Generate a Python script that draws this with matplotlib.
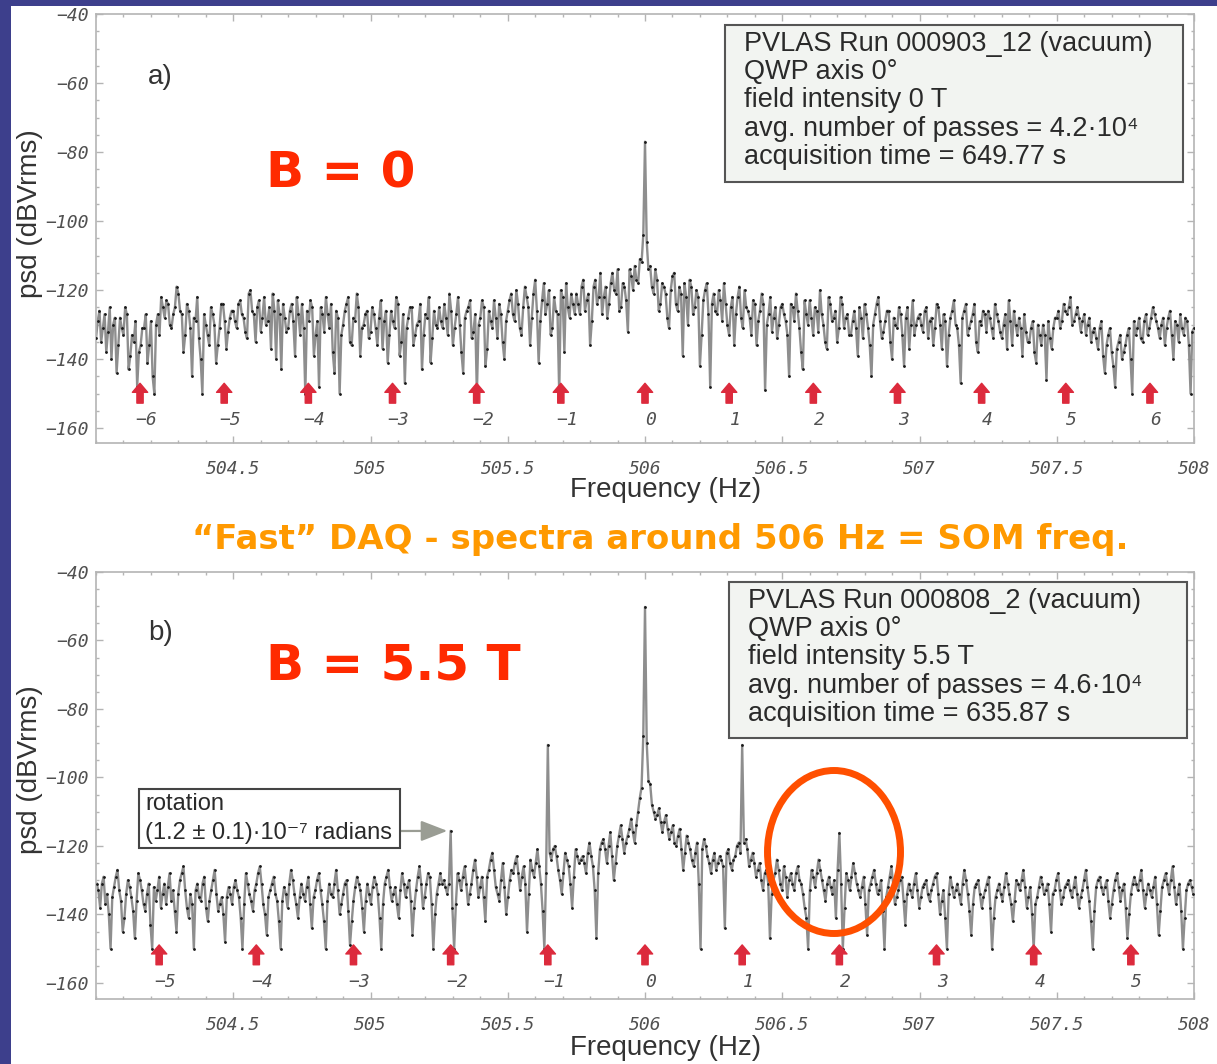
import numpy as np
import matplotlib
matplotlib.use('Agg')
import matplotlib.pyplot as plt
from matplotlib.patches import Rectangle, Ellipse
from matplotlib.ticker import MultipleLocator, FixedLocator, FixedFormatter

plt.rcParams['font.family'] = ['Liberation Sans', 'DejaVu Sans']
plt.rcParams['mathtext.fontset'] = 'custom'
plt.rcParams['mathtext.rm'] = 'Liberation Sans'
plt.rcParams['mathtext.default'] = 'regular'

# ---------------- data ----------------
# panel a: B = 0, bins every 0.0125 Hz from 504.0 to 508.0 Hz
PSD_A = [
    -134, -126, -131, -138, -125, -130, -144, -128, -133, -127, -139, -135, -148, -136, -131, -141, -129, -150, -127, -122,
    -128, -124, -131, -125, -121, -127, -133, -126, -145, -129, -134, -150, -130, -136, -127, -141, -131, -124, -137, -128,
    -126, -131, -123, -128, -134, -120, -127, -125, -132, -122, -129, -137, -126, -123, -143, -128, -131, -124, -139, -127,
    -124, -150, -129, -125, -133, -148, -127, -122, -131, -138, -126, -150, -130, -124, -135, -128, -121, -139, -130, -126,
    -132, -127, -136, -123, -129, -141, -126, -131, -124, -135, -147, -128, -125, -133, -129, -143, -127, -122, -134, -130,
    -125, -131, -128, -121, -136, -127, -130, -144, -126, -123, -132, -150, -128, -125, -137, -129, -123, -134, -127, -140,
    -126, -121, -129, -124, -133, -119, -125, -128, -117, -141, -123, -127, -120, -131, -126, -150, -122, -118, -128, -124,
    -121, -127, -117, -123, -136, -119, -124, -115, -122, -128, -118, -120, -114, -125, -119, -132, -116, -113, -118, -112,
    -77, -114, -119, -114, -126, -118, -121, -131, -116, -124, -119, -139, -122, -117, -127, -120, -142, -123, -118, -148,
    -121, -127, -123, -118, -130, -125, -136, -122, -128, -120, -126, -133, -124, -129, -121, -149, -127, -132, -125, -130,
    -124, -129, -145, -125, -121, -131, -143, -127, -123, -133, -126, -120, -130, -137, -124, -128, -135, -122, -131, -127,
    -133, -126, -139, -128, -124, -131, -145, -127, -122, -134, -129, -126, -140, -130, -125, -133, -128, -137, -123, -130,
    -127, -132, -125, -129, -136, -124, -130, -127, -142, -128, -123, -131, -147, -126, -133, -129, -124, -138, -130, -127,
    -126, -131, -124, -129, -134, -127, -123, -136, -130, -128, -139, -132, -135, -129, -141, -133, -130, -146, -134, -131,
    -128, -131, -124, -127, -122, -129, -125, -132, -127, -130, -135, -131, -137, -129, -144, -133, -138, -148, -135, -140,
    -136, -131, -150, -133, -128, -135, -127, -131, -125, -129, -134, -128, -131, -126, -140, -130, -127, -133, -129, -150,
    -131,
]
# panel a: values read half-way between the bins above
PSD_A_MID = [
    -129, -135, -127, -132, -140, -128, -136, -131, -125, -143, -133, -129, -138, -131, -127, -136, -145, -130, -133, -125,
    -123, -130, -127, -119, -126, -138, -124, -131, -128, -122, -140, -127, -133, -125, -130, -136, -124, -129, -132, -126,
    -129, -124, -127, -132, -121, -126, -135, -123, -128, -130, -125, -121, -140, -127, -124, -132, -126, -129, -122, -133,
    -131, -126, -123, -139, -129, -125, -132, -127, -124, -144, -128, -133, -126, -122, -136, -129, -125, -131, -127, -134,
    -125, -131, -128, -137, -126, -133, -129, -122, -139, -127, -131, -125, -136, -130, -124, -133, -128, -141, -126, -131,
    -129, -124, -133, -126, -131, -122, -138, -128, -125, -134, -127, -130, -123, -142, -126, -131, -128, -124, -135, -129,
    -123, -127, -120, -131, -125, -122, -136, -121, -126, -129, -118, -124, -133, -122, -127, -120, -138, -125, -121, -127,
    -124, -119, -126, -121, -129, -117, -122, -127, -119, -124, -115, -121, -126, -118, -123, -114, -120, -117, -111, -104,
    -106, -113, -121, -117, -124, -119, -128, -120, -115, -126, -121, -118, -130, -119, -125, -122, -133, -120, -127, -124,
    -126, -120, -129, -124, -133, -122, -127, -119, -131, -125, -128, -123, -136, -126, -124, -130, -122, -128, -134, -125,
    -127, -133, -124, -129, -126, -138, -123, -130, -128, -125, -132, -127, -135, -122, -129, -126, -131, -124, -128, -133,
    -129, -131, -125, -134, -127, -136, -130, -124, -129, -132, -126, -135, -128, -131, -127, -142, -125, -130, -133, -128,
    -130, -126, -134, -128, -131, -125, -137, -129, -133, -126, -130, -136, -128, -124, -131, -127, -135, -129, -126, -132,
    -128, -134, -127, -132, -130, -137, -129, -126, -133, -131, -127, -135, -131, -138, -130, -136, -133, -129, -137, -128,
    -126, -129, -126, -125, -130, -127, -128, -129, -133, -128, -132, -134, -131, -139, -136, -131, -142, -137, -133, -138,
    -133, -140, -129, -131, -134, -129, -133, -128, -127, -131, -130, -136, -128, -133, -129, -135, -131, -128, -136, -132,
]

# panel b: B = 5.5 T, bins every 0.354/28 Hz centred on 506 Hz
PSD_B = [
    -131, -138, -129, -134, -150, -132, -127, -136, -141, -130, -135, -147, -128, -133, -139, -131, -150, -136, -129, -134,
    -137, -128, -133, -145, -130, -126, -138, -134, -150, -131, -136, -129, -142, -133, -127, -139, -135, -148, -132, -137,
    -130, -135, -150, -128, -134, -139, -131, -126, -137, -146, -133, -129, -136, -150, -132, -138, -127, -134, -141, -131,
    -136, -129, -144, -133, -128, -137, -150, -131, -135, -127, -140, -134, -130, -149, -136, -129, -133, -145, -131, -137,
    -129, -134, -150, -131, -127, -136, -132, -141, -128, -135, -130, -146, -133, -126, -138, -131, -129, -150, -134, -128,
    -130, -134, -115.6, -150, -128, -133, -126, -137, -131, -124, -135, -129, -142, -127, -122, -132, -136, -125, -140, -130,
    -128, -123, -133, -126, -145, -124, -129, -121, -131, -150, -90.5, -124, -120, -127, -134, -122, -126, -138, -121, -125,
    -123, -128, -119, -126, -147, -121, -118, -125, -116, -130, -120, -114, -122, -117, -112, -119, -110, -103, -50.2, -101,
    -108, -112, -109, -116, -111, -118, -114, -120, -115, -127, -117, -121, -126, -119, -150, -118, -123, -128, -122, -125,
    -124, -144, -121, -127, -123, -119, -90.5, -118, -126, -122, -129, -125, -133, -127, -147, -130, -124, -131, -126, -135,
    -128, -133, -126, -131, -138, -150, -127, -132, -124, -130, -136, -129, -134, -141, -116.2, -150, -128, -133, -125, -131,
    -135, -129, -146, -131, -127, -134, -130, -150, -132, -126, -137, -133, -129, -143, -131, -135, -128, -138, -132, -130,
    -136, -131, -128, -140, -133, -150, -129, -135, -131, -137, -127, -134, -146, -132, -130, -138, -133, -129, -150, -135,
    -131, -136, -128, -134, -142, -130, -133, -127, -138, -132, -150, -135, -129, -134, -131, -145, -133, -128, -137, -132,
    -130, -135, -129, -138, -133, -127, -136, -150, -132, -129, -134, -130, -141, -133, -128, -136, -131, -147, -134, -129,
    -133, -127, -138, -131, -135, -129, -146, -132, -128, -134, -126, -137, -131, -150, -133, -130, -134,
]
# panel b: values read half-way between the bins above
PSD_B_MID = [
    -133, -131, -137, -140, -135, -129, -133, -145, -134, -132, -139, -136, -130, -137, -134, -143, -132, -133, -138, -131,
    -132, -136, -139, -134, -128, -133, -141, -137, -133, -135, -131, -138, -136, -130, -134, -137, -140, -135, -134, -132,
    -133, -141, -137, -131, -136, -133, -128, -131, -140, -135, -131, -134, -142, -136, -134, -131, -130, -137, -135, -134,
    -132, -137, -135, -130, -133, -142, -136, -134, -131, -133, -137, -131, -139, -142, -132, -131, -138, -136, -134, -132,
    -131, -141, -137, -129, -132, -134, -137, -133, -131, -132, -136, -138, -129, -131, -135, -128, -137, -140, -131, -131,
    -132, -131, -138, -137, -130, -129, -131, -134, -127, -129, -132, -135, -129, -124, -127, -134, -130, -132, -135, -127,
    -125, -128, -129, -131, -134, -127, -125, -126, -139, -128, -122, -121, -123, -130, -128, -124, -131, -129, -123, -124,
    -125, -122, -123, -133, -128, -119, -121, -120, -123, -125, -117, -118, -119, -115, -116, -114, -106, -88, -90, -102,
    -110, -111, -113, -113, -115, -116, -119, -117, -121, -122, -119, -124, -122, -131, -121, -120, -125, -124, -127, -123,
    -126, -122, -125, -124, -120, -122, -119, -121, -124, -125, -127, -130, -128, -131, -134, -128, -127, -133, -129, -130,
    -131, -128, -130, -134, -141, -133, -129, -128, -127, -133, -131, -132, -130, -127, -131, -138, -130, -129, -128, -133,
    -132, -137, -133, -129, -131, -133, -139, -135, -129, -131, -135, -130, -136, -134, -133, -131, -133, -135, -131, -134,
    -133, -129, -134, -136, -141, -134, -132, -133, -134, -131, -130, -139, -137, -131, -134, -135, -131, -138, -141, -133,
    -134, -132, -131, -137, -136, -131, -130, -132, -135, -140, -137, -132, -131, -133, -137, -134, -130, -133, -135, -131,
    -133, -132, -134, -135, -130, -132, -142, -139, -130, -132, -132, -136, -137, -130, -132, -133, -138, -140, -131, -131,
    -130, -133, -134, -133, -132, -137, -139, -130, -131, -130, -132, -134, -139, -141, -131, -132,
]

F0 = 506.0                 # SOM frequency (Hz)
BIN_A = 0.0125             # frequency bin, panel a (Hz)
BIN_B = 0.354 / 28         # frequency bin, panel b (Hz)
HARM_A = list(range(-6, 7))
HARM_B = list(range(-5, 6))
STEP_A = 0.3066            # magnet rotation spacing, panel a
STEP_B = 0.354             # magnet rotation spacing, panel b

XTICKS = [504.5, 505, 505.5, 506, 506.5, 507, 507.5, 508]
XTICK_LABELS = ['504.5', '505', '505.5', '506', '506.5', '507', '507.5', '508']
YTICKS = [-160, -140, -120, -100, -80, -60, -40]
YTICK_LABELS = ['\u2212160', '\u2212140', '\u2212120', '\u2212100', '\u221280', '\u221260', '\u221240']

BOX_A = ['PVLAS Run 000903_12 (vacuum)', 'QWP axis 0\u00b0', 'field intensity 0 T',
         'avg. number of passes = 4.2\u00b710\u2074', 'acquisition time = 649.77 s']
BOX_B = ['PVLAS Run 000808_2 (vacuum)', 'QWP axis 0\u00b0', 'field intensity 5.5 T',
         'avg. number of passes = 4.6\u00b710\u2074', 'acquisition time = 635.87 s']

# ---------------- figure ----------------
W, H = 1217, 1064
fig = plt.figure(figsize=(W / 100, H / 100), dpi=100)
fig.patch.set_facecolor('#3d3f8c')
fig.add_artist(Rectangle((11 / W, 0), 1 - 11 / W, 1 - 6 / H, transform=fig.transFigure,
                         facecolor='white', edgecolor='none', zorder=0))

def fx(px):
    return px / W

def fy(py):
    return 1 - py / H

ax1 = fig.add_axes([fx(96), fy(443), 1098 / W, 429 / H])
ax2 = fig.add_axes([fx(96), fy(999), 1098 / W, 427 / H])

def interleave(main, mid):
    out = np.empty(len(main) + len(mid))
    out[0::2] = main
    out[1::2] = mid
    return out

vals_a = interleave(PSD_A, PSD_A_MID)
freq_a = 504.0 + 0.5 * BIN_A * np.arange(len(vals_a))
vals_b = interleave(PSD_B, PSD_B_MID)
nB = len(vals_b)
freq_b = F0 + 0.5 * BIN_B * (np.arange(nB) - (nB - 1) // 2)

tick_font = dict(family='DejaVu Sans Mono', style='oblique', size=13, color='#505050')
arrow_col = '#dc2a3c'

def style_axes(ax, ybot):
    ax.set_xlim(504, 508)
    ax.set_ylim(ybot, -40)
    ax.set_facecolor('white')
    for s in ax.spines.values():
        s.set_color('#b4b4b4')
        s.set_linewidth(1.2)
    ax.xaxis.set_major_locator(FixedLocator(XTICKS))
    ax.xaxis.set_major_formatter(FixedFormatter(XTICK_LABELS))
    ax.xaxis.set_minor_locator(MultipleLocator(0.1))
    ax.yaxis.set_major_locator(FixedLocator(YTICKS))
    ax.yaxis.set_major_formatter(FixedFormatter(YTICK_LABELS))
    ax.yaxis.set_minor_locator(MultipleLocator(5))
    ax.tick_params(which='both', direction='in', top=True, right=True, color='#b4b4b4', width=1.0)
    ax.tick_params(which='major', length=5)
    ax.tick_params(which='minor', length=2.5)
    ax.tick_params(axis='x', which='major', pad=12)
    ax.tick_params(axis='y', which='major', pad=5)
    for lab in ax.get_xticklabels() + ax.get_yticklabels():
        lab.set_fontfamily('DejaVu Sans Mono')
        lab.set_fontstyle('oblique')
        lab.set_fontsize(13)
        lab.set_color('#505050')

def draw_trace(ax, f, v):
    ax.plot(f, v, color='#8e8e8e', lw=1.7, zorder=2)
    ax.plot(f, v, ls='none', marker='.', ms=2.0, color='#1a1a1a', zorder=3)

def harmonics(ax, harm, step, ylo, yhi, ylab):
    for k in harm:
        x = F0 + k * step
        ax.annotate('', xy=(x, yhi), xytext=(x, ylo),
                    arrowprops=dict(arrowstyle='simple,head_width=1.1,head_length=0.65,tail_width=0.45',
                                    color=arrow_col, shrinkA=0, shrinkB=0, mutation_scale=10))
        lab = str(k).replace('-', '\u2212')
        ax.text(x + 0.022, ylab, lab, ha='center', va='center', **tick_font)

style_axes(ax1, -164.3)
style_axes(ax2, -164.7)
draw_trace(ax1, freq_a, vals_a)
draw_trace(ax2, freq_b, vals_b)
harmonics(ax1, HARM_A, STEP_A, -152.75, -147.0, -157.7)
harmonics(ax2, HARM_B, STEP_B, -154.7, -148.9, -159.7)

# axis labels
lab_kw = dict(fontsize=20, color='#333333')
fig.text(fx(30), fy(214), 'psd (dBVrms)', rotation=90, ha='center', va='center', **lab_kw)
fig.text(fx(30), fy(770), 'psd (dBVrms)', rotation=90, ha='center', va='center', **lab_kw)
fig.text(fx(666), fy(490), 'Frequency (Hz)', ha='center', va='center', **lab_kw)
fig.text(fx(666), fy(1048), 'Frequency (Hz)', ha='center', va='center', **lab_kw)
fig.text(fx(148), fy(77), 'a)', ha='left', va='center', **lab_kw)
fig.text(fx(148), fy(633), 'b)', ha='left', va='center', **lab_kw)

# info boxes
def info_box(x0, y0, x1, y1, lines):
    fig.add_artist(Rectangle((fx(x0), fy(y1)), (x1 - x0) / W, (y1 - y0) / H, transform=fig.transFigure,
                             facecolor='#f2f4f1', edgecolor='#555555', lw=1.5, zorder=5))
    for i, t in enumerate(lines):
        fig.text(fx(x0 + 19), fy(y0 + 26 + 28.2 * i), t, ha='left', va='baseline',
                 fontsize=19.5, color='#2a2a2a', zorder=6)

info_box(725, 25, 1183, 182, BOX_A)
info_box(729, 582, 1187, 738, BOX_B)

# rotation box and arrow
fig.add_artist(Rectangle((fx(139), fy(848)), 261 / W, 59 / H, transform=fig.transFigure,
                         facecolor='white', edgecolor='#444444', lw=1.5, zorder=5))
fig.text(fx(145), fy(810), 'rotation', ha='left', va='baseline', fontsize=17, color='#2a2a2a', zorder=6)
fig.text(fx(145), fy(839), '(1.2 \u00b1 0.1)\u00b710\u207b\u2077 radians', ha='left', va='baseline',
         fontsize=17, color='#2a2a2a', zorder=6)
ax2.annotate('', xy=(F0 - 2 * STEP_B - 0.012, -115.6), xycoords='data',
             xytext=(fx(401), fy(831)), textcoords='figure fraction',
             arrowprops=dict(arrowstyle='-|>,head_width=0.35,head_length=0.9', color='#9a9d94', lw=1.6,
                             shrinkA=0, shrinkB=0, mutation_scale=18))

# slide annotations
fig.text(fx(266), fy(188), 'B = 0', ha='left', va='baseline', fontsize=36, fontweight='bold',
         color='#ff2a00', family='DejaVu Sans')
fig.text(fx(266), fy(680), 'B = 5.5 T', ha='left', va='baseline', fontsize=36, fontweight='bold',
         color='#ff2a00', family='DejaVu Sans')
fig.text(fx(660), fy(539), '\u201cFast\u201d DAQ - spectra around 506 Hz = SOM freq.', ha='center', va='center',
         fontsize=24.5, fontweight='bold', color='#ff9900', family='DejaVu Sans')
fig.add_artist(Ellipse((fx(834), fy(852)), 133 / W, 163 / H, transform=fig.transFigure,
                       fill=False, edgecolor='#ff4f00', lw=5, zorder=7))

fig.savefig('out.png', dpi=100, facecolor=fig.get_facecolor())
